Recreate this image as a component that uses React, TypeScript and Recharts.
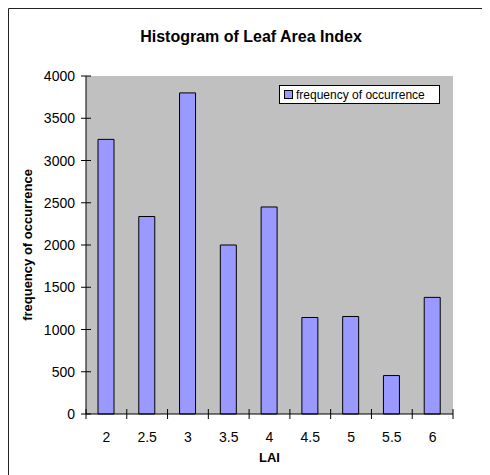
import React from 'react';
import { BarChart, Bar, XAxis, YAxis, CartesianGrid, Legend } from 'recharts';

const laiCategories = ['2', '2.5', '3', '3.5', '4', '4.5', '5', '5.5', '6'];
const frequencyValues = [3250, 2337, 3800, 2000, 2450, 1142, 1154, 455, 1380];
const yTicks = [0, 500, 1000, 1500, 2000, 2500, 3000, 3500, 4000];

const data = laiCategories.map((lai, i) => ({ lai, frequency: frequencyValues[i] }));

const PLOT_LEFT = 86;
const PLOT_RIGHT = 453;
const PLOT_BOTTOM = 414;
const BAND = (PLOT_RIGHT - PLOT_LEFT) / laiCategories.length;
const FONT = 'Arial, "Liberation Sans", sans-serif';

const YTick = (props: any) => {
  const { y, payload } = props;
  return (
    <g>
      <line x1={PLOT_LEFT - 5} x2={PLOT_LEFT + 5} y1={y} y2={y} stroke="#000" />
      <text x={PLOT_LEFT - 11} y={y} dy={5} textAnchor="end" fontSize={14} fill="#000" fontFamily={FONT}>
        {payload.value}
      </text>
    </g>
  );
};

const XTick = (props: any) => {
  const { x, index, payload } = props;
  const left = x - BAND / 2;
  return (
    <g>
      <line x1={left} x2={left} y1={PLOT_BOTTOM - 5} y2={PLOT_BOTTOM + 5} stroke="#000" />
      {index === laiCategories.length - 1 && (
        <line x1={left + BAND} x2={left + BAND} y1={PLOT_BOTTOM - 5} y2={PLOT_BOTTOM + 5} stroke="#000" />
      )}
      <text x={x} y={PLOT_BOTTOM + 28} textAnchor="middle" fontSize={14} fill="#000" fontFamily={FONT}>
        {payload.value}
      </text>
    </g>
  );
};

const LegendBox = () => (
  <div
    style={{
      boxSizing: 'border-box',
      width: 161,
      height: 19,
      border: '1px solid #000',
      background: '#fff',
      display: 'flex',
      alignItems: 'center',
      paddingLeft: 4,
      fontFamily: FONT,
      fontSize: 12,
      color: '#000',
      whiteSpace: 'nowrap',
    }}
  >
    <span style={{ display: 'inline-block', width: 7, height: 7, background: '#9999FF', border: '1px solid #000', marginRight: 3 }} />
    frequency of occurrence
  </div>
);

export default function App() {
  return (
    <div style={{ position: 'relative', width: 490, height: 475, marginLeft: -8, marginTop: -8, background: '#fff', fontFamily: FONT }}>
      <div style={{ position: 'absolute', left: 0, top: 28, width: 502, textAlign: 'center', fontSize: 16, fontWeight: 'bold', lineHeight: '18px' }}>
        Histogram of Leaf Area Index
      </div>
      <BarChart width={490} height={475} data={data} margin={{ top: 76, right: 37, bottom: 11, left: 0 }}>
        <path d="M8.5 475 V8.5 H490" fill="none" stroke="#222" strokeWidth={1} />
        <CartesianGrid fill="#C0C0C0" horizontal={false} vertical={false} stroke="none" />
        <XAxis
          dataKey="lai"
          height={50}
          interval={0}
          tickLine={false}
          axisLine={{ stroke: '#000' }}
          tick={<XTick />}
          label={{ value: 'LAI', position: 'insideBottom', offset: 2, fontSize: 13, fontWeight: 'bold', fill: '#000', fontFamily: FONT }}
        />
        <XAxis xAxisId="top" dataKey="lai" orientation="top" height={0} tick={false} tickLine={false} axisLine={{ stroke: '#808080' }} />
        <YAxis
          width={86}
          domain={[0, 4000]}
          ticks={yTicks}
          interval={0}
          tickLine={false}
          axisLine={{ stroke: '#000' }}
          tick={<YTick />}
          label={{ value: 'frequency of occurrence', angle: -90, position: 'center', dx: -16, fontSize: 13, fontWeight: 'bold', fill: '#000', fontFamily: FONT }}
        />
        <YAxis yAxisId="right" orientation="right" width={0} tick={false} tickLine={false} axisLine={{ stroke: '#808080' }} />
        <Legend
          layout="horizontal"
          verticalAlign="middle"
          align="center"
          content={<LegendBox />}
          wrapperStyle={{ left: 279, top: 85, width: 'auto' }}
        />
        <Bar dataKey="frequency" name="frequency of occurrence" fill="#9999FF" stroke="#000" strokeWidth={1} barSize={16} isAnimationActive={false} />
      </BarChart>
    </div>
  );
}
